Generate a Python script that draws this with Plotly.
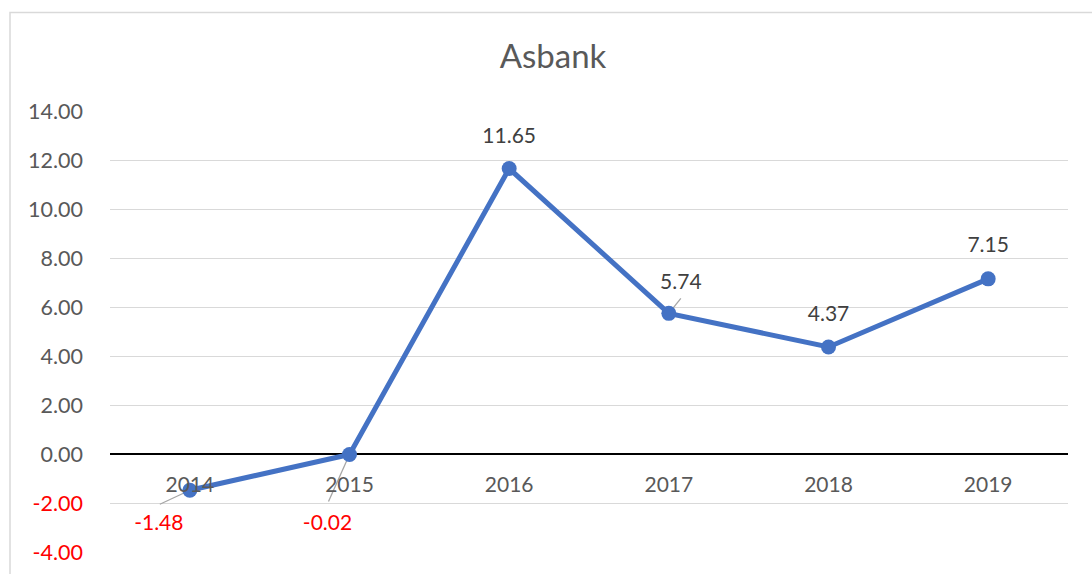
import plotly.graph_objects as go

# ---- data ----
years = ["2014", "2015", "2016", "2017", "2018", "2019"]
values = [-1.48, -0.02, 11.65, 5.74, 4.37, 7.15]
y_ticks = [-4, -2, 0, 2, 4, 6, 8, 10, 12, 14]
title_text = "Asbank"

# ---- style ----
FONT = "Lato"
LINE_COLOR = "#4472C4"
AXIS_TEXT = "#595959"
LABEL_TEXT = "#404040"
NEG_COLOR = "#FF0000"
GRID = "#D9D9D9"
LEADER = "#A6A6A6"

Y_MIN, Y_MAX = -4, 14
PLOT_W, PLOT_H = 958, 441
M_L, M_R, M_T, M_B = 110, 24, 111, 22
PX_PER_Y = PLOT_H / (Y_MAX - Y_MIN)
PX_PER_X = PLOT_W / len(years)
CAT_LABEL_DROP = 33  # px below zero line

# label offsets (px, right/up positive) and leader-line end offsets (px)
label_style = {
    "2014": dict(dx=-31, dy=-34, lead=(-30, -14)),
    "2015": dict(dx=-22, dy=-70, lead=(-21, -47)),
    "2016": dict(dx=0, dy=31, lead=None),
    "2017": dict(dx=12, dy=30, lead=(12, 15)),
    "2018": dict(dx=0, dy=31, lead=None),
    "2019": dict(dx=0, dy=32, lead=None),
}

xpos = list(range(len(years)))

fig = go.Figure()

# leader lines
for i, (yr, v) in enumerate(zip(years, values)):
    st = label_style[yr]
    if st["lead"]:
        lx, ly = st["lead"]
        fig.add_trace(go.Scatter(
            x=[i, i + lx / PX_PER_X], y=[v, v + ly / PX_PER_Y], mode="lines",
            line=dict(color=LEADER, width=1.3), hoverinfo="skip", showlegend=False,
        ))

fig.add_trace(go.Scatter(
    x=xpos, y=values, mode="lines+markers",
    line=dict(color=LINE_COLOR, width=5),
    marker=dict(color=LINE_COLOR, size=15),
    customdata=years, hovertemplate="%{customdata}: %{y:.2f}<extra></extra>",
    showlegend=False,
))

# category labels just below the zero line
fig.add_trace(go.Scatter(
    x=xpos, y=[-CAT_LABEL_DROP / PX_PER_Y] * len(years), mode="text",
    text=years, textposition="middle center",
    textfont=dict(family=FONT, size=21, color=AXIS_TEXT),
    hoverinfo="skip", showlegend=False, cliponaxis=False,
))

# data labels
lab_x, lab_y, lab_t, lab_c = [], [], [], []
for i, (yr, v) in enumerate(zip(years, values)):
    st = label_style[yr]
    lab_x.append(i + st["dx"] / PX_PER_X)
    lab_y.append(v + st["dy"] / PX_PER_Y)
    lab_t.append(f"{v:.2f}")
    lab_c.append(NEG_COLOR if v < 0 else LABEL_TEXT)
fig.add_trace(go.Scatter(
    x=lab_x, y=lab_y, mode="text", text=lab_t, textposition="middle center",
    textfont=dict(family=FONT, size=21, color=lab_c),
    hoverinfo="skip", showlegend=False, cliponaxis=False,
))

tick_text = [
    f"<span style='color:{NEG_COLOR}'>{t:.2f}</span>" if t < 0 else f"{t:.2f}"
    for t in y_ticks
]

fig.update_layout(
    width=1092, height=574, autosize=False, showlegend=False,
    margin=dict(l=M_L, r=M_R, t=M_T, b=M_B, pad=0, autoexpand=False),
    paper_bgcolor="white", plot_bgcolor="white",
    title=dict(text=title_text, xref="container", x=0.5064, xanchor="center",
               yref="container", y=1 - 56 / 574, yanchor="middle",
               font=dict(family=FONT, size=33, color=AXIS_TEXT)),
    xaxis=dict(range=[-0.5, len(years) - 0.5], showticklabels=False,
               showgrid=False, zeroline=False, showline=False, automargin=False),
    yaxis=dict(range=[Y_MIN, Y_MAX], tickvals=y_ticks, ticktext=tick_text,
               showgrid=True, gridcolor=GRID, gridwidth=1,
               zeroline=True, zerolinecolor="#000000", zerolinewidth=1.5,
               showline=False, ticks="", ticklabelstandoff=26, automargin=False,
               tickfont=dict(family=FONT, size=21.5, color=AXIS_TEXT)),
    shapes=[dict(type="rect", xref="paper", yref="paper",
                 x0=-(M_L - 10) / PLOT_W, x1=1.06, y0=-0.1,
                 y1=(M_T + PLOT_H - 12.5) / PLOT_H,
                 line=dict(color=GRID, width=1.5), fillcolor="rgba(0,0,0,0)",
                 layer="below")],
)

fig.write_html("out.html", config={"displayModeBar": False},
               post_script="document.body.style.margin='0';")
